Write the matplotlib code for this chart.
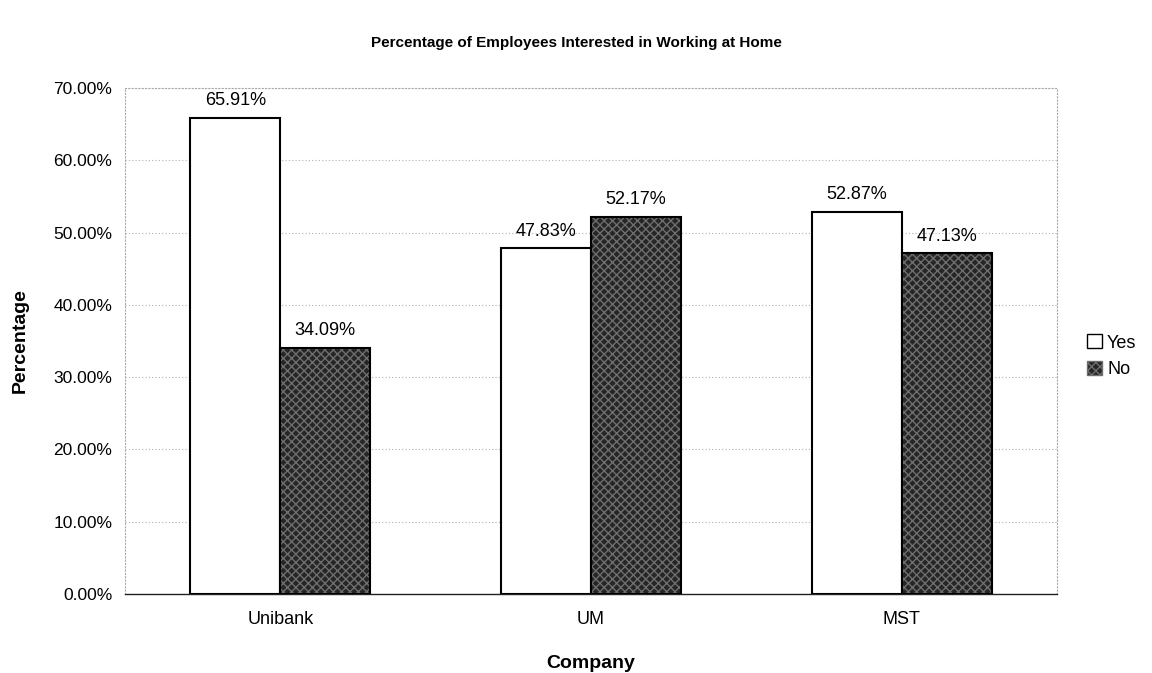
import numpy as np
import matplotlib
matplotlib.use("Agg")
import matplotlib.pyplot as plt
from matplotlib.patches import Patch

companies = ["Unibank", "UM", "MST"]
yes_pct = [65.91, 47.83, 52.87]
no_pct = [34.09, 52.17, 47.13]
y_ticks = [0, 10, 20, 30, 40, 50, 60, 70]

plt.rcParams['font.family'] = ['Liberation Sans', 'DejaVu Sans']

fig = plt.figure(figsize=(11.52, 6.73), dpi=100)
ax = fig.add_axes([0.1085, 0.1174, 0.809, 0.7518])

x = np.arange(len(companies))
w = 0.29

# Yes: plain white bars
ax.bar(x - w / 2, yes_pct, w, color="white", edgecolor="black", linewidth=1.5, zorder=3)
# No: dark stippled bars, hatch first then outline on top
ax.bar(x + w / 2, no_pct, w, color="#262626", edgecolor="#6e6e6e", hatch="xxxx",
       linewidth=0, zorder=3)
ax.bar(x + w / 2, no_pct, w, color="none", edgecolor="black", linewidth=1.5, zorder=4)

for xi, v in zip(x - w / 2, yes_pct):
    ax.text(xi, v + 1.2, "%.2f%%" % v, ha="center", va="bottom", fontsize=13)
for xi, v in zip(x + w / 2, no_pct):
    ax.text(xi, v + 1.2, "%.2f%%" % v, ha="center", va="bottom", fontsize=13)

ax.set_xlim(-0.5, 2.5)
ax.set_ylim(0, 70)
ax.set_yticks(y_ticks)
ax.set_yticklabels(["%.2f%%" % t for t in y_ticks], fontsize=12.5)
ax.set_xticks(x)
ax.set_xticklabels(companies, fontsize=13)
ax.tick_params(axis="x", length=0, pad=12)
ax.tick_params(axis="y", length=0, pad=9)

ax.yaxis.grid(True, color="#b0b0b0", linestyle=(0, (1, 2)), linewidth=0.8, zorder=0)
for side in ["left", "right", "top"]:
    ax.spines[side].set_color("#a8a8a8")
    ax.spines[side].set_linestyle((0, (1, 2)))
    ax.spines[side].set_linewidth(0.8)
ax.spines["bottom"].set_color("#222222")
ax.spines["bottom"].set_linewidth(1.0)

ax.set_ylabel("Percentage", fontsize=14, fontweight="bold", labelpad=18)
ax.set_xlabel("Company", fontsize=14, fontweight="bold", labelpad=20)
fig.suptitle("Percentage of Employees Interested in Working at Home",
             fontsize=11, fontweight="bold", y=0.947)

handles = [Patch(facecolor="white", edgecolor="black", label="Yes"),
           Patch(facecolor="#262626", edgecolor="#6e6e6e", hatch="xxxx", label="No")]
ax.legend(handles=handles, loc="center left", bbox_to_anchor=(1.015, 0.47),
          frameon=False, fontsize=13, handlelength=0.8, handleheight=0.8,
          handletextpad=0.3, labelspacing=0.5)

fig.savefig("out.png", dpi=100)
